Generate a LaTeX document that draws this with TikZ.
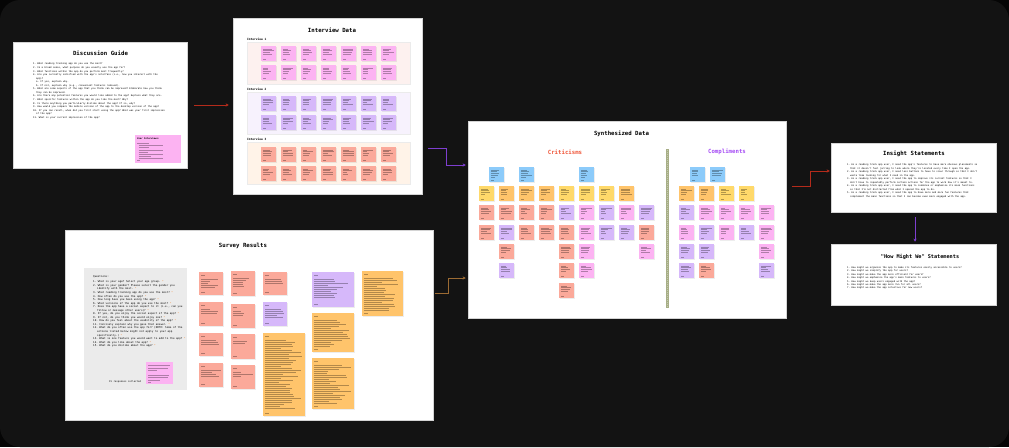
\documentclass[tikz,border=0pt]{standalone}
\usepackage{fontspec}
\setmonofont{DejaVu Sans Mono}
\usetikzlibrary{arrows.meta}

\definecolor{canvasout}{HTML}{050505}
\definecolor{canvasin}{HTML}{131313}
\definecolor{boardline}{HTML}{D4D4D4}
\definecolor{notepink}{HTML}{FCB3F2}
\definecolor{notepurple}{HTML}{D6B8FA}
\definecolor{notesalmon}{HTML}{FBA99A}
\definecolor{noteorange}{HTML}{FFC46B}
\definecolor{noteyellow}{HTML}{FFD96A}
\definecolor{noteblue}{HTML}{8CCBFA}
\definecolor{bandpink}{HTML}{FDF1EF}
\definecolor{bandlav}{HTML}{F7F2FD}
\definecolor{bandpeach}{HTML}{FFF3E8}
\definecolor{panelgrey}{HTML}{EBEBEB}
\definecolor{divgreen}{HTML}{A7AE86}
\definecolor{critred}{HTML}{F0573A}
\definecolor{complpurple}{HTML}{A64DF5}
\definecolor{linkred}{HTML}{B42B1B}
\definecolor{linkpurple}{HTML}{7E3FD0}
\definecolor{linkbrown}{HTML}{9C6B33}
\definecolor{starmark}{HTML}{F08A3A}

% a sticky note with a few lines of handwriting-size text
\newcommand{\sticky}[6]{%
  \fill[black,opacity=0.07] ({#1+0.8},{#2+0.8}) rectangle ++(#3,#4);
  \fill[#5] ({#1},{#2}) rectangle ++(#3,#4);
  \foreach \k in {1,...,#6}{%
    \pgfmathsetmacro\scrlen{(#3-4)*(0.4+0.6*rnd)}%
    \draw[scribble] ({#1+2},{#2+1+\k*1.8}) -- ++(\scrlen,0);
  }%
  \draw[scribble] ({#1+2},{#2+#4-2}) -- ++(2.5,0);
}
% a survey answer note: heading, body lines, footer
\newcommand{\snote}[6]{%
  \fill[black,opacity=0.07] ({#1+0.8},{#2+0.8}) rectangle ++(#3,#4);
  \fill[#5] ({#1},{#2}) rectangle ++(#3,#4);
  \draw[scribble,line width=0.5pt] ({#1+2},{#2+3}) -- ++(4,0);
  \foreach \k in {1,...,#6}{%
    \pgfmathsetmacro\scrlen{(#3-4)*(0.35+0.65*rnd)}%
    \draw[scribble] ({#1+2},{#2+5.5+\k*2}) -- ++(\scrlen,0);
  }%
  \draw[scribble] ({#1+2},{#2+#4-2.5}) -- ++(4,0);
}

\begin{document}
\begin{tikzpicture}[x=1pt,y=-1pt,
  board/.style={draw=boardline,line width=0.5pt,fill=white,inner sep=0pt},
  boardtitle/.style={font=\ttfamily\bfseries\fontsize{5.7}{6}\selectfont,inner sep=0pt},
  smalltext/.style={anchor=north west,inner sep=0pt,align=left,
    font=\ttfamily\fontsize{2.35}{3.55}\selectfont},
  scribble/.style={line width=0.32pt,black,opacity=0.3},
  conn/.style={line width=0.9pt,-{Stealth[length=3.2pt,width=3.2pt]}}]
\pgfmathsetseed{11}
\useasboundingbox (0,0) rectangle (1009,447);
\fill[canvasout] (0,0) rectangle (1009,447);
\fill[canvasin,rounded corners=20pt] (0,0) rectangle (1009,447);

% ---------------- boards ----------------
\node[board,minimum width=174pt,minimum height=126pt] (dg) at (100,105) {};
\node[board,minimum width=189pt,minimum height=176pt] (iv) at (327.5,106) {};
\node[board,minimum width=368pt,minimum height=190pt] (sv) at (249,325) {};
\node[board,minimum width=318pt,minimum height=197pt] (syn) at (627,219.5) {};
\node[board,minimum width=165pt,minimum height=69pt] (ins) at (913.5,177.5) {};
\node[board,minimum width=165pt,minimum height=61pt] (hmw) at (913.5,274.5) {};

% ---------------- Discussion Guide ----------------
\node[boardtitle] (dgtitle) at (100.5,53) {Discussion Guide};
\node[smalltext] (dgtext) at (33,63) {%
1. What reading tracking app do you use the most?\\
2. In a broad sense, what purpose do you usually use the app for?\\
3. What functions within the app do you perform most frequently?\\
4. Are you currently satisfied with the app's interface (i.e., how you interact with the\\
\hspace*{3pt}app)?\\
\hspace*{3pt}a. If yes, explain why.\\
\hspace*{3pt}b. If not, explain why (e.g., convenient features removed).\\
5. What are some aspects of the app that you think can be improved? Elaborate how you think\\
\hspace*{3pt}they can be improved.\\
6. Are there any potential features you would like added to the app? Explain what they are.\\
7. What specific features within the app do you like the most? Why?\\
8. Is there anything you particularly dislike about the app? If so, why?\\
9. How would you compare the mobile version of the app to the desktop version of the app?\\
10. If you can recall, when did you first start using the app? What was your first impression\\
\hspace*{3pt}of the app?\\
11. What is your current impression of the app?};
\fill[notepink] (135,135) rectangle (181,163);
\node[anchor=west,inner sep=0pt,font=\ttfamily\bfseries\fontsize{2.3}{3}\selectfont] (dguser) at (137,139) {User Interviews:};
\foreach \k/\l in {1/12,2/24,3/10,4/24,5/9,6/24,7/12,8/24}{%
  \draw[scribble] ({137+(\k>1)*1.5},{141+\k*2.2}) -- ++(\l,0);}
\draw[scribble] (137,160.5) -- ++(3,0);

% ---------------- Interview Data ----------------
\node[boardtitle] (ivtitle) at (332,30) {Interview Data};
\foreach \ly/\lab/\band in {39/Interview 1/bandpink,89/Interview 2/bandlav,139/Interview 3/bandpeach}{%
  \node[anchor=west,inner sep=0pt,font=\ttfamily\bfseries\fontsize{2.9}{3}\selectfont] at (247,\ly) {\lab};
  \filldraw[fill=\band,draw=black!8,line width=0.3pt] (247,{\ly+3}) rectangle (410,{\ly+45});
}
\foreach \sy/\col in {46/notepink,65/notepink,96/notepurple,115/notepurple,147/notesalmon,166/notesalmon}{%
  \foreach \c in {0,...,6}{\sticky{261+20*\c}{\sy}{15}{15}{\col}{4}}}

% ---------------- Survey Results ----------------
\node[boardtitle] (svtitle) at (243,246) {Survey Results};
\fill[panelgrey] (84,268) rectangle (187,390);
\node[smalltext,font=\ttfamily\fontsize{2.6}{3.55}\selectfont] (svq) at (93,275.5) {%
Questions:\\[1.6pt]
1. What is your age? Select your age group. \textcolor{starmark}{*}\\
2. What is your gender? Please select the gender you\\
\hspace*{4pt}identify with the most. \textcolor{starmark}{*}\\
3. What reading tracking app do you use the most? \textcolor{starmark}{*}\\
4. How often do you use the app? \textcolor{starmark}{*}\\
5. How long have you been using the app? \textcolor{starmark}{*}\\
6. What versions of the app do you use the most? \textcolor{starmark}{*}\\
7. Does the app have a social aspect to it (i.e., can you\\
\hspace*{4pt}follow or message other users)? \textcolor{starmark}{*}\\
8. If yes, do you enjoy the social aspect of the app? \textcolor{starmark}{*}\\
9. If not, do you think you would enjoy one? \textcolor{starmark}{*}\\
10. How do you feel about the usability of the app? \textcolor{starmark}{*}\\
11. Concisely explain why you gave that answer. \textcolor{starmark}{*}\\
12. What do you often use the app for? (NOTE: Some of the\\
\hspace*{4pt}actions listed below might not apply to your app\\
\hspace*{4pt}specifically.) \textcolor{starmark}{*}\\
13. What is one feature you would want to add to the app? \textcolor{starmark}{*}\\
14. What do you like about the app? \textcolor{starmark}{*}\\
15. What do you dislike about the app? \textcolor{starmark}{*}};
\node[anchor=west,inner sep=0pt,font=\ttfamily\fontsize{2.4}{3}\selectfont] (svcount) at (109,382) {15 responses collected};
\fill[notepink] (146,362) rectangle (173,384);
\foreach \k/\l in {1/22,2/20,3/9,5/21,6/20,7/12}{\draw[scribble] (148,{363+\k*2.4}) -- ++(\l,0);}
\draw[scribble] (148,382) -- ++(3,0);

\snote{199}{272}{24}{23}{notesalmon}{5}
\snote{199}{302}{24}{24}{notesalmon}{3}
\snote{199}{333}{24}{23}{notesalmon}{3}
\snote{199}{363}{24}{24}{notesalmon}{4}
\snote{231}{271}{24}{25}{notesalmon}{5}
\snote{231}{304}{24}{24}{notesalmon}{3}
\snote{231}{334}{24}{25}{notesalmon}{2}
\snote{231}{365}{24}{24}{notesalmon}{3}
\snote{263}{272}{24}{23}{notesalmon}{3}
\snote{263}{302}{24}{24}{notepurple}{5}
\snote{263}{333}{42}{83}{noteorange}{35}
\snote{312}{272}{42}{35}{notepurple}{10}
\snote{312}{313}{42}{39}{noteorange}{14}
\snote{312}{358}{42}{51}{noteorange}{20}
\snote{362}{271}{41}{45}{noteorange}{17}

% ---------------- Synthesized Data ----------------
\node[boardtitle] (syntitle) at (621.5,134) {Synthesized Data};
\node[boardtitle,text=critred] (crit) at (565,152) {Criticisms};
\node[boardtitle,text=complpurple] (compl) at (727,152) {Compliments};
\fill[divgreen] (666,149) rectangle (669,308);
\foreach \yy in {150,152,...,306}{\fill[white,opacity=0.35] (667,\yy) rectangle ++(1,1);}
% criticisms
\foreach \xx in {489,519,579}{\sticky{\xx}{167}{15}{15}{noteblue}{5}}
\foreach \c/\col in {1/noteyellow,2/noteorange,3/noteorange,4/noteorange,5/noteyellow,6/noteyellow,7/noteyellow,8/noteorange}{%
  \sticky{479+20*(\c-1)}{186}{15}{15}{\col}{4}}
\foreach \c/\col in {1/notesalmon,2/notesalmon,3/notesalmon,4/notesalmon,5/notepurple,6/notepink,7/notepurple,8/notepink,9/notepurple}{%
  \sticky{479+20*(\c-1)}{205}{15}{15}{\col}{4}}
\foreach \c/\col in {1/notesalmon,2/notepurple,3/notesalmon,4/notesalmon,5/notesalmon,6/notepink,7/notepurple,8/notepurple,9/notesalmon}{%
  \sticky{479+20*(\c-1)}{225}{15}{15}{\col}{4}}
\foreach \c/\col in {2/notesalmon,5/notesalmon,6/notepink,9/notepink}{%
  \sticky{479+20*(\c-1)}{244}{15}{15}{\col}{4}}
\foreach \c/\col in {2/notepurple,5/notesalmon,6/notepink}{%
  \sticky{479+20*(\c-1)}{263}{15}{15}{\col}{4}}
\sticky{559}{283}{15}{15}{notesalmon}{4}
% compliments
\foreach \xx in {690,710}{\sticky{\xx}{167}{15}{15}{noteblue}{4}}
\foreach \c/\col in {1/noteorange,2/noteorange,3/noteyellow,4/noteyellow}{%
  \sticky{679+20*(\c-1)}{186}{15}{15}{\col}{4}}
\foreach \c/\col in {1/notepurple,2/notepink,3/notepink,4/notepink,5/notepink}{%
  \sticky{679+20*(\c-1)}{205}{15}{15}{\col}{4}}
\foreach \c/\col in {1/notepink,2/notepurple,3/notepink,4/notepurple,5/notepink}{%
  \sticky{679+20*(\c-1)}{225}{15}{15}{\col}{4}}
\foreach \c/\col in {1/notepurple,2/notepurple,5/notepink}{%
  \sticky{679+20*(\c-1)}{244}{15}{15}{\col}{4}}
\foreach \c/\col in {1/notepurple,2/notesalmon,5/notepurple}{%
  \sticky{679+20*(\c-1)}{263}{15}{15}{\col}{4}}

% ---------------- Insight Statements ----------------
\node[boardtitle] (institle) at (914,154) {Insight Statements};
\node[smalltext] (instext) at (847,163.5) {%
1. As a reading track app user, I need the app's features to have more obvious placements so\\
\hspace*{3pt}that it doesn't feel jarring to look where they're located every time I open the app.\\
2. As a reading track app user, I need less buttons to have to scour through so that I don't\\
\hspace*{3pt}waste time looking for what I need in the app.\\
3. As a reading track app user, I need the app to improve its current features so that I\\
\hspace*{3pt}don't have to repeatedly perform certain actions for the app to work how it's meant to.\\
4. As a reading track app user, I need the app to condense or emphasize its main functions\\
\hspace*{3pt}so that I'm not distracted from what I opened the app to do.\\
5. As a reading track app user, I need the app to have more and more fun features that\\
\hspace*{3pt}complement the main functions so that I can become even more engaged with the app.};

% ---------------- How Might We ----------------
\node[boardtitle,font=\ttfamily\bfseries\fontsize{5.2}{6}\selectfont] (hmwtitle) at (920,257) {"How Might We" Statements};
\node[smalltext,font=\ttfamily\fontsize{2.35}{3.4}\selectfont] (hmwtext) at (847,266.5) {%
1. How might we organize the app to make its features easily accessible to users?\\
2. How might we simplify the app for users?\\
3. How might we make the app more efficient for users?\\
4. How might we emphasize the app's main features to users?\\
5. How might we keep users engaged with the app?\\
6. How might we make the app more fun for all users?\\
7. How might we make the app intuitive for new users?};

% ---------------- connectors ----------------
\draw[conn,linkred] ([xshift=7pt]dg.east) -- ([xshift=-4pt]dg.east -| iv.west);
\coordinate (ivout) at ([xshift=6pt,yshift=-42pt]iv.east);
\coordinate (synin1) at ([xshift=-2pt,yshift=54.5pt]syn.west);
\draw[conn,linkpurple] (ivout) -- ++(18,0) |- (synin1);
\coordinate (svout) at ([xshift=2pt,yshift=32pt]sv.east);
\coordinate (synin2) at ([xshift=-2pt,yshift=-58.5pt]syn.west);
\draw[conn,linkbrown] (svout) -- ++(13,0) |- (synin2);
\coordinate (synout) at ([xshift=6pt,yshift=33.5pt]syn.east);
\coordinate (insin) at ([xshift=-1pt,yshift=6.5pt]ins.west);
\draw[conn,linkred] (synout) -- ++(18,0) |- (insin);
\draw[conn,linkpurple] ([xshift=1.5pt,yshift=-5pt]ins.south) -- ([xshift=1.5pt,yshift=2pt]hmw.north);
\end{tikzpicture}
\end{document}
